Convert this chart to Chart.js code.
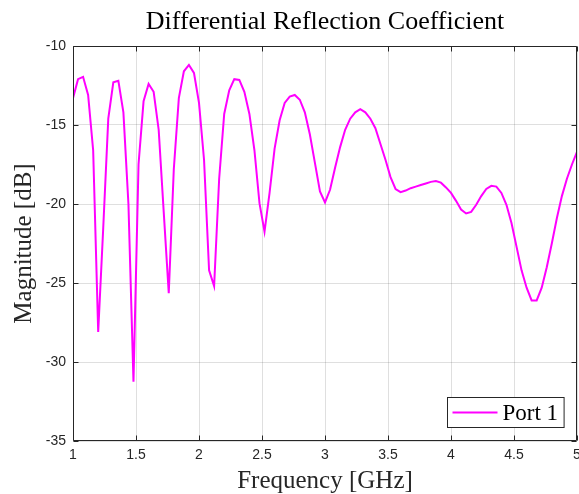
<!DOCTYPE html>
<html>
<head>
<meta charset="utf-8">
<script src="https://cdn.jsdelivr.net/npm/chart.js@4/dist/chart.umd.min.js"></script>
<style>
  html, body { margin: 0; padding: 0; background: #fff; }
  canvas { display: block; }
</style>
</head>
<body>
<canvas id="chart" width="579" height="494"></canvas>
<script>
// Frequency sweep (GHz)
const frequencyGHz = [
  1.00, 1.04, 1.08, 1.12, 1.16, 1.20, 1.24, 1.28, 1.32, 1.36,
  1.40, 1.44, 1.48, 1.52, 1.56, 1.60, 1.64, 1.68, 1.72, 1.76,
  1.80, 1.84, 1.88, 1.92, 1.96, 2.00, 2.04, 2.08, 2.12, 2.16,
  2.20, 2.24, 2.28, 2.32, 2.36, 2.40, 2.44, 2.48, 2.52, 2.56,
  2.60, 2.64, 2.68, 2.72, 2.76, 2.80, 2.84, 2.88, 2.92, 2.96,
  3.00, 3.04, 3.08, 3.12, 3.16, 3.20, 3.24, 3.28, 3.32, 3.36,
  3.40, 3.44, 3.48, 3.52, 3.56, 3.60, 3.64, 3.68, 3.72, 3.76,
  3.80, 3.84, 3.88, 3.92, 3.96, 4.00, 4.04, 4.08, 4.12, 4.16,
  4.20, 4.24, 4.28, 4.32, 4.36, 4.40, 4.44, 4.48, 4.52, 4.56,
  4.60, 4.64, 4.68, 4.72, 4.76, 4.80, 4.84, 4.88, 4.92, 4.96,
  5.00
];

// Port 1 differential reflection magnitude (dB)
const port1dB = [
  -13.3, -12.1, -11.95, -13.1, -16.6, -28.1, -21.5, -14.6, -12.3, -12.2,
  -14.2, -20.0, -31.25, -17.5, -13.5, -12.4, -12.9, -15.3, -20.5, -25.65,
  -17.8, -13.3, -11.6, -11.2, -11.7, -13.6, -17.2, -24.2, -25.2, -18.4,
  -14.3, -12.8, -12.1, -12.15, -12.9, -14.3, -16.6, -19.95, -21.75, -19.3,
  -16.5, -14.7, -13.6, -13.2, -13.1, -13.4, -14.2, -15.6, -17.4, -19.2,
  -19.9, -19.1, -17.7, -16.4, -15.3, -14.6, -14.2, -14.0, -14.2, -14.6,
  -15.2, -16.2, -17.2, -18.3, -19.05, -19.25, -19.15, -19.0, -18.9, -18.8,
  -18.7, -18.6, -18.55, -18.65, -18.95, -19.3, -19.8, -20.35, -20.6, -20.5,
  -20.05, -19.5, -19.05, -18.85, -18.9, -19.3, -20.05, -21.2, -22.7, -24.2,
  -25.3, -26.1, -26.1, -25.3, -24.0, -22.5, -20.9, -19.5, -18.4, -17.5,
  -16.7
];

// Axis limits and tick spacing
const xRange = [1, 5];
const xStep = 0.5;
const yRange = [-35, -10];
const yStep = 5;

const seriesLabel = 'Port 1';
const titleText = 'Differential Reflection Coefficient';
const xTitle = 'Frequency [GHz]';
const yTitle = 'Magnitude [dB]';

const axisColor = '#262626';
const gridColor = 'rgba(38,38,38,0.15)';
const lineColor = '#ff00ff';
const serif = "'Liberation Serif', 'Times New Roman', serif";
const sans = "'Liberation Sans', Arial, sans-serif";

const points = frequencyGHz.map((f, i) => ({ x: f, y: port1dB[i] }));

// Title centred over the plot area rather than the whole canvas
const plotTitle = {
  id: 'plotTitle',
  afterDraw(chart) {
    const { ctx, chartArea: a } = chart;
    ctx.save();
    ctx.font = '26px ' + serif;
    ctx.fillStyle = '#000';
    ctx.textAlign = 'center';
    ctx.textBaseline = 'middle';
    ctx.fillText(titleText, (a.left + a.right) / 2, 22);
    ctx.restore();
  }
};

// Closed axes box with inward tick marks on all four sides
const boxedAxes = {
  id: 'boxedAxes',
  afterDatasetsDraw(chart) {
    const { ctx, chartArea: a, scales } = chart;
    const tl = 5;
    ctx.save();
    ctx.strokeStyle = axisColor;
    ctx.lineWidth = 1;
    const L = Math.round(a.left) + 0.5, R = Math.round(a.right) - 0.5;
    const T = Math.round(a.top) + 0.5, B = Math.round(a.bottom) - 0.5;
    ctx.beginPath();
    ctx.rect(L, T, R - L, B - T);
    scales.x.ticks.forEach(t => {
      const px = Math.round(scales.x.getPixelForValue(t.value)) + 0.5;
      ctx.moveTo(px, B); ctx.lineTo(px, B - tl);
      ctx.moveTo(px, T); ctx.lineTo(px, T + tl);
    });
    scales.y.ticks.forEach(t => {
      const py = Math.round(scales.y.getPixelForValue(t.value)) + 0.5;
      ctx.moveTo(L, py); ctx.lineTo(L + tl, py);
      ctx.moveTo(R, py); ctx.lineTo(R - tl, py);
    });
    ctx.stroke();
    ctx.restore();
  }
};

// Boxed legend in the lower-right corner of the plot area
const cornerLegend = {
  id: 'cornerLegend',
  afterDraw(chart) {
    const { ctx, chartArea: a } = chart;
    const ds = chart.data.datasets[0];
    ctx.save();
    ctx.font = '23px ' + serif;
    const tw = ctx.measureText(ds.label).width;
    const lineLen = 45;
    const w = 5 + lineLen + 5 + tw + 6;
    const h = 30;
    const x1 = Math.round(a.right - 13 - w) + 0.5;
    const y1 = Math.round(a.bottom - 14 - h) + 0.5;
    ctx.fillStyle = '#fff';
    ctx.fillRect(x1, y1, w, h);
    ctx.strokeStyle = axisColor;
    ctx.lineWidth = 1;
    ctx.strokeRect(x1, y1, w, h);
    const cy = y1 + h / 2;
    ctx.strokeStyle = ds.borderColor;
    ctx.lineWidth = ds.borderWidth;
    ctx.beginPath();
    ctx.moveTo(x1 + 5, cy);
    ctx.lineTo(x1 + 5 + lineLen, cy);
    ctx.stroke();
    ctx.fillStyle = '#000';
    ctx.textBaseline = 'middle';
    ctx.textAlign = 'left';
    ctx.fillText(ds.label, x1 + 5 + lineLen + 5, cy + 1);
    ctx.restore();
  }
};

new Chart(document.getElementById('chart'), {
  type: 'line',
  data: {
    datasets: [{
      label: seriesLabel,
      data: points,
      borderColor: lineColor,
      borderWidth: 2,
      pointRadius: 0,
      tension: 0,
      fill: false
    }]
  },
  options: {
    responsive: false,
    animation: false,
    devicePixelRatio: 1,
    layout: { padding: { left: 0, right: 2, top: 46, bottom: 0 } },
    plugins: {
      legend: { display: false },
      tooltip: { enabled: false },
      title: { display: false }
    },
    scales: {
      x: {
        type: 'linear',
        min: xRange[0],
        max: xRange[1],
        border: { display: false },
        grid: { color: gridColor, lineWidth: 1, drawTicks: false },
        ticks: {
          stepSize: xStep,
          color: axisColor,
          padding: 6,
          maxRotation: 0,
          font: { family: sans, size: 14 },
          callback: v => String(Math.round(v * 10) / 10)
        },
        title: {
          display: true,
          text: xTitle,
          color: axisColor,
          font: { family: serif, size: 25, lineHeight: 1 },
          padding: { top: 0, bottom: 0 }
        },
        afterFit(scale) {
          scale.height = 53;
          scale.paddingLeft = 0;
          scale.paddingRight = 0;
        }
      },
      y: {
        type: 'linear',
        min: yRange[0],
        max: yRange[1],
        border: { display: false },
        grid: { color: gridColor, lineWidth: 1, drawTicks: false },
        ticks: {
          stepSize: yStep,
          color: axisColor,
          padding: 7,
          font: { family: sans, size: 14 },
          callback: v => String(v)
        },
        title: {
          display: true,
          text: yTitle,
          color: axisColor,
          font: { family: serif, size: 25, lineHeight: 1 },
          padding: { top: 12, bottom: 0 }
        },
        afterFit(scale) {
          scale.width = 73;
          scale.paddingTop = 0;
          scale.paddingBottom = 0;
        }
      }
    }
  },
  plugins: [boxedAxes, plotTitle, cornerLegend]
});
</script>
</body>
</html>
